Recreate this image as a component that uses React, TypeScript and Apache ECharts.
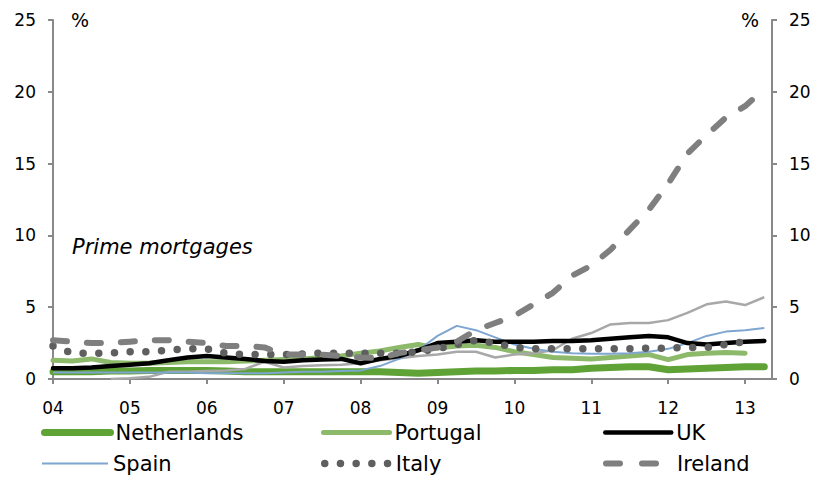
import React, { useEffect, useRef } from "react";
import * as echarts from "echarts";

// Quarterly observation dates (decimal years)
const quarters = [
  2004, 2004.25, 2004.5, 2004.75,
  2005, 2005.25, 2005.5, 2005.75,
  2006, 2006.25, 2006.5, 2006.75,
  2007, 2007.25, 2007.5, 2007.75,
  2008, 2008.25, 2008.5, 2008.75,
  2009, 2009.25, 2009.5, 2009.75,
  2010, 2010.25, 2010.5, 2010.75,
  2011, 2011.25, 2011.5, 2011.75,
  2012, 2012.25, 2012.5, 2012.75,
  2013, 2013.25,
];

const yearTicks = ["04", "05", "06", "07", "08", "09", "10", "11", "12", "13"];

const netherlands = [
  0.5, 0.5, 0.5, 0.55, 0.55, 0.6, 0.6, 0.6, 0.6, 0.55, 0.5, 0.5,
  0.5, 0.5, 0.5, 0.5, 0.5, 0.5, 0.45, 0.4, 0.45, 0.5, 0.55, 0.55,
  0.6, 0.6, 0.65, 0.65, 0.75, 0.8, 0.85, 0.85, 0.65, 0.7, 0.75, 0.8,
  0.85, 0.85,
];

const portugal = [
  1.3, 1.25, 1.4, 1.15, 1.1, 1.1, 1.15, 1.2, 1.2, 1.2, 1.25, 1.3,
  1.35, 1.4, 1.5, 1.6, 1.8, 1.95, 2.2, 2.4, 2.15, 2.3, 2.35, 2.2,
  1.9, 1.7, 1.5, 1.45, 1.4, 1.5, 1.6, 1.7, 1.35, 1.7, 1.8, 1.85,
  1.8, null,
];

const uk = [
  0.75, 0.75, 0.8, 0.9, 1.0, 1.1, 1.3, 1.5, 1.6, 1.5, 1.4, 1.25,
  1.2, 1.3, 1.35, 1.4, 1.1, 1.4, 1.6, 2.0, 2.5, 2.6, 2.7, 2.6,
  2.6, 2.6, 2.65, 2.65, 2.7, 2.8, 2.9, 3.0, 2.9, 2.5, 2.4, 2.5,
  2.6, 2.65,
];

const spain = [
  0.45, 0.45, 0.45, 0.45, 0.45, 0.45, 0.45, 0.45, 0.4, 0.4, 0.4, 0.4,
  0.45, 0.5, 0.5, 0.55, 0.6, 0.9, 1.4, 2.0, 3.0, 3.7, 3.4, 2.9,
  2.4, 2.1, 1.9, 1.8, 1.75, 1.75, 1.8, 1.9, 2.1, 2.5, 3.0, 3.3,
  3.4, 3.55,
];

const italy = [
  2.3, 1.8, 1.8, 1.8, 1.9, 1.9, 2.0, 2.1, 2.1, 1.8, 1.7, 1.7,
  1.7, 1.75, 1.8, 1.8, 1.8, 1.8, 1.8, 1.9, 2.1, 2.4, 2.7, 2.5,
  2.2, 2.1, 2.1, 2.1, 2.1, 2.1, 2.1, 2.15, 2.15, 2.2, 2.2, 2.4,
  2.6, null,
];

const ireland = [
  2.7, 2.6, 2.5, 2.5, 2.6, 2.7, 2.7, 2.6, 2.5, 2.3, 2.3, 2.2,
  1.7, 1.7, 1.7, 1.6, 1.5, 1.45, 1.8, 2.0, 2.2, 2.6, 3.4, 3.9,
  4.4, 5.2, 6.0, 7.2, 7.9, 9.0, 10.4, 11.8, 13.6, 15.7, 17.0, 18.2,
  19.0, 20.2,
];

const other = [
  null, null, null, 0.0, 0.05, 0.15, 0.5, 0.5, 0.55, 0.6, 0.7, 1.2,
  0.8, 0.9, 0.95, 1.0, 1.1, 1.3, 1.45, 1.6, 1.7, 1.9, 1.9, 1.5,
  1.7, 1.8, 2.0, 2.8, 3.2, 3.8, 3.9, 3.9, 4.1, 4.6, 5.2, 5.4,
  5.15, 5.7,
];

const toData = (vals: (number | null)[]) =>
  quarters.map((q, i) => [q, vals[i] === null ? "-" : vals[i]]);

const FONT = "DejaVu Sans";
const AXIS_COLOR = "#898989";

const STYLES: Record<string, any> = {
  Netherlands: { color: "#5FA236", width: 7, cap: "round", join: "round", type: "solid" },
  Portugal: { color: "#8DB96A", width: 5, cap: "round", join: "round", type: "solid" },
  UK: { color: "#000000", width: 4.5, cap: "round", join: "round", type: "solid" },
  Spain: { color: "#7EA6D0", width: 2, cap: "butt", join: "round", type: "solid" },
  Italy: { color: "#5F5F5F", width: 7.5, cap: "round", join: "round", type: [0, 15.7] },
  Ireland: { color: "#7F7F7F", width: 6, cap: "round", join: "round", type: [14, 20] },
  Other: { color: "#A8A8A8", width: 2.5, cap: "butt", join: "round", type: "solid" },
};

export default function App() {
  const ref = useRef<HTMLDivElement>(null);

  useEffect(() => {
    if (!ref.current) return;
    const chart = echarts.init(ref.current, null, { renderer: "svg" });

    const legendItem = (name: string, left: number, top: number) => ({
      data: [name],
      left,
      top,
      itemWidth: 66,
      itemHeight: 14,
      itemGap: 0,
      itemStyle: { opacity: 0 },
      lineStyle: {
        width: STYLES[name].width,
        type: name === "Ireland" ? [14, 22] : STYLES[name].type,
        cap: STYLES[name].cap,
        color: STYLES[name].color,
      },
      textStyle: { fontSize: 21, fontFamily: FONT, color: "#000" },
    });

    const yAxisBase = {
      type: "value",
      min: 0,
      max: 25,
      interval: 5,
      splitLine: { show: false },
      axisLine: { show: true, lineStyle: { color: AXIS_COLOR, width: 2 } },
      axisTick: { show: true, length: 5, lineStyle: { color: AXIS_COLOR, width: 2 } },
      axisLabel: { fontSize: 17, fontFamily: FONT, color: "#000", margin: 17 },
    };

    const mkSeries = (name: string, vals: (number | null)[], z: number) => ({
      name,
      type: "line",
      data: toData(vals),
      symbol: "none",
      lineStyle: { ...STYLES[name] },
      itemStyle: { color: STYLES[name].color },
      z,
    });

    chart.setOption({
      animation: false,
      backgroundColor: "#fff",
      grid: { left: 53, right: 46, top: 20, bottom: 105, containLabel: false },
      xAxis: {
        type: "value",
        min: 2004,
        max: 2013.35,
        interval: 1,
        splitLine: { show: false },
        axisLine: { show: true, lineStyle: { color: AXIS_COLOR, width: 2 } },
        axisTick: { show: true, length: 5, lineStyle: { color: AXIS_COLOR, width: 2 } },
        axisLabel: {
          fontSize: 17,
          fontFamily: FONT,
          color: "#000",
          margin: 20,
          showMaxLabel: false,
          formatter: (v: number) =>
            Number.isInteger(v) ? yearTicks[v - 2004] ?? "" : "",
        },
      },
      yAxis: [
        { ...yAxisBase, position: "left" },
        { ...yAxisBase, position: "right" },
      ],
      legend: [
        legendItem("Netherlands", 36, 417),
        legendItem("Portugal", 316, 417),
        legendItem("UK", 598, 417),
        legendItem("Spain", 36, 448),
        legendItem("Italy", 316, 448),
        legendItem("Ireland", 598, 448),
      ],
      graphic: [
        {
          type: "text",
          left: 71,
          top: 10,
          style: { text: "%", fontSize: 19, fontFamily: FONT, fill: "#000" },
        },
        {
          type: "text",
          left: 741,
          top: 10,
          style: { text: "%", fontSize: 19, fontFamily: FONT, fill: "#000" },
        },
        {
          type: "text",
          left: 72,
          top: 236,
          style: {
            text: "Prime mortgages",
            fontSize: 21,
            fontStyle: "italic",
            fontFamily: FONT,
            fill: "#000",
          },
        },
      ],
      series: [
        mkSeries("Netherlands", netherlands, 2),
        mkSeries("Portugal", portugal, 3),
        mkSeries("Other", other, 4),
        mkSeries("Spain", spain, 5),
        mkSeries("UK", uk, 6),
        mkSeries("Italy", italy, 7),
        mkSeries("Ireland", ireland, 8),
      ],
    });

    return () => chart.dispose();
  }, []);

  return (
    <div
      ref={ref}
      style={{ position: "absolute", left: 0, top: 0, width: 818, height: 484 }}
    />
  );
}
